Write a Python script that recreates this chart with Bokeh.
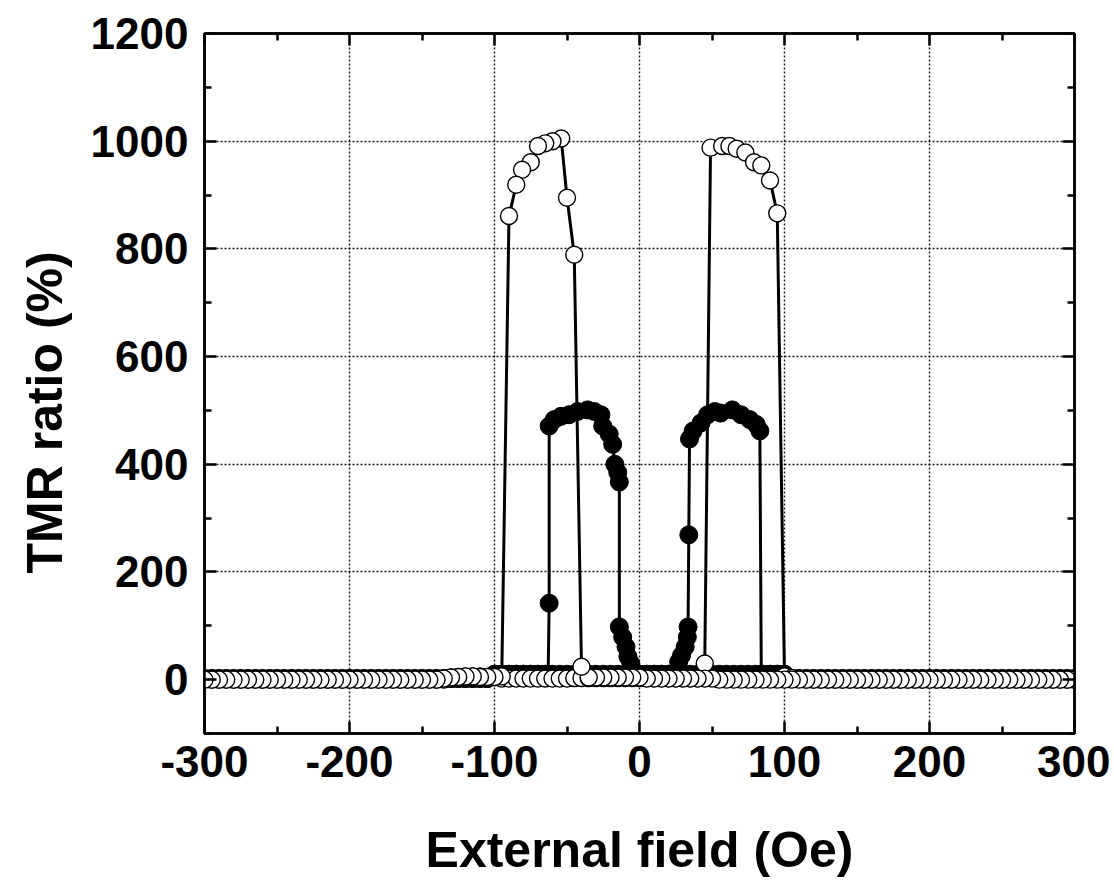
from bokeh.plotting import figure
from bokeh.models import FixedTicker, LinearAxis, Title
from bokeh.embed import file_html
from bokeh.resources import INLINE

# ---------------- data ----------------
# open circles, field sweep up (-300 -> +300)
open_up_field = [
    -300, -295, -290, -285, -280, -275, -270, -265, -260, -255,
    -250, -245, -240, -235, -230, -225, -220, -215, -210, -205,
    -200, -195, -190, -185, -180, -175, -170, -165, -160, -155,
    -150, -145, -140, -135, -130, -125, -120, -115, -110, -105,
    -100, -95, -90, -85, -80, -75, -70, -65, -60, -55,
    -50, -45, -40, -35, -30, -25, -20, -15, -10, -5,
    0, 5, 10, 15, 20, 25, 30, 35, 40,
    45, 49, 57, 62, 67, 73, 79, 84, 90, 95,
    100, 105, 110, 115, 120, 125, 130, 135, 140, 145,
    150, 155, 160, 165, 170, 175, 180, 185, 190, 195,
    200, 205, 210, 215, 220, 225, 230, 235, 240, 245,
    250, 255, 260, 265, 270, 275, 280, 285, 290, 295,
    300,
]
open_up_tmr = [
    0, 0, 0, 0, 0, 0, 0, 0, 0, 0,
    0, 0, 0, 0, 0, 0, 0, 0, 0, 0,
    0, 0, 0, 0, 0, 0, 0, 0, 0, 0,
    0, 0, 0, 0, 4, 5, 6, 6, 6, 5,
    5, 2, 2, 2, 2, 2, 2, 2, 2, 2,
    2, 3, 3, 3, 3, 3, 3, 3, 3, 3,
    3, 3, 3, 3, 3, 3, 3, 3, 3,
    30, 988, 991, 991, 986, 979, 961, 955, 927, 866,
    6, 3, 2, 0, 0, 0, 0, 0, 0, 0,
    0, 0, 0, 0, 0, 0, 0, 0, 0, 0,
    0, 0, 0, 0, 0, 0, 0, 0, 0, 0,
    0, 0, 0, 0, 0, 0, 0, 0, 0, 0,
    0,
]

# open circles, field sweep down (+300 -> -300)
open_down_field = [
    300, 295, 290, 285, 280, 275, 270, 265, 260, 255,
    250, 245, 240, 235, 230, 225, 220, 215, 210, 205,
    200, 195, 190, 185, 180, 175, 170, 165, 160, 155,
    150, 145, 140, 135, 130, 125, 120, 115, 110, 105,
    100, 95, 90, 85, 80, 75, 70, 65, 60, 55,
    50, 45, 40, 35, 30, 25, 20, 15, 10, 5,
    0, -5, -10, -15, -20, -25, -30, -35,
    -40, -45, -50, -54, -60, -65, -70, -75, -81, -85, -90,
    -95, -100, -105, -110, -115, -120, -125, -130, -135, -140,
    -145, -150, -155, -160, -165, -170, -175, -180, -185, -190,
    -195, -200, -205, -210, -215, -220, -225, -230, -235, -240,
    -245, -250, -255, -260, -265, -270, -275, -280, -285, -290,
    -295, -300,
]
open_down_tmr = [
    0, 0, 0, 0, 0, 0, 0, 0, 0, 0,
    0, 0, 0, 0, 0, 0, 0, 0, 0, 0,
    0, 0, 0, 0, 0, 0, 0, 0, 0, 0,
    0, 0, 0, 0, 0, 0, 0, 0, 0, 0,
    0, 0, 0, 0, 0, 0, 0, 0, 0, 0,
    2, 2, 2, 2, 2, 2, 2, 2, 2, 2,
    4, 4, 4, 4, 4, 4, 4, 4,
    24, 789, 895, 1005, 1000, 996, 991, 961, 947, 919, 861,
    6, 5, 5, 5, 6, 6, 5, 4, 2, 0,
    0, 0, 0, 0, 0, 0, 0, 0, 0, 0,
    0, 0, 0, 0, 0, 0, 0, 0, 0, 0,
    0, 0, 0, 0, 0, 0, 0, 0, 0, 0,
    0, 0,
]

# filled circles, field sweep up (-300 -> +300)
filled_up_field = [
    -300, -295, -290, -285, -280, -275, -270, -265, -260, -255,
    -250, -245, -240, -235, -230, -225, -220, -215, -210, -205,
    -200, -195, -190, -185, -180, -175, -170, -165, -160, -155,
    -150, -145, -140, -135, -130, -125, -120, -115, -110, -105,
    -100, -95, -90, -85, -80, -75, -70, -65, -60, -55,
    -50, -45, -40, -35, -30, -25, -20, -15, -10, -5,
    0, 5, 10, 15, 20, 25,
    27, 29, 31.5, 33, 33.5, 34, 34.5, 37, 42.5, 47, 52, 56, 64, 70, 76, 80.5, 83, 84,
    85, 90, 95, 100,
    105, 110, 115, 120, 125, 130, 135, 140, 145, 150,
    155, 160, 165, 170, 175, 180, 185, 190, 195, 200,
    205, 210, 215, 220, 225, 230, 235, 240, 245, 250,
    255, 260, 265, 270, 275, 280, 285, 290, 295, 300,
]
filled_up_tmr = [
    2, 2, 2, 2, 2, 2, 2, 2, 2, 2,
    2, 2, 2, 2, 2, 2, 2, 2, 2, 2,
    2, 2, 2, 2, 2, 2, 2, 2, 2, 2,
    2, 2, 2, 2, 2, 2, 2, 2, 2, 2,
    10, 10, 10, 10, 10, 10, 10, 10, 10, 10,
    10, 10, 10, 10, 10, 10, 10, 10, 10, 10,
    10, 10, 10, 10, 10, 10,
    33, 45, 61, 79, 98, 269, 447, 462, 477, 492, 498, 495, 501, 492, 483, 474, 462, 10,
    10, 10, 10, 10,
    2, 2, 2, 2, 2, 2, 2, 2, 2, 2,
    2, 2, 2, 2, 2, 2, 2, 2, 2, 2,
    2, 2, 2, 2, 2, 2, 2, 2, 2, 2,
    2, 2, 2, 2, 2, 2, 2, 2, 2, 2,
]

# filled circles, field sweep down (+300 -> -300)
filled_down_field = [
    300, 295, 290, 285, 280, 275, 270, 265, 260, 255,
    250, 245, 240, 235, 230, 225, 220, 215, 210, 205,
    200, 195, 190, 185, 180, 175, 170, 165, 160, 155,
    150, 145, 140, 135, 130, 125, 120, 115, 110, 105,
    100, 95, 90, 85, 80, 75, 70, 65, 60, 55,
    50, 45, 40, 35, 30, 25, 20, 15, 10, 5,
    0, -5,
    -6, -8, -9.3, -11.6, -13.9, -13.9, -15, -17, -18.5, -20.9, -25.4,
    -26.6, -31.2, -35.8, -42.7, -48.5, -54.2, -58.8, -62.3, -62.3, -63,
    -65, -70, -75, -80, -85, -90, -95, -100,
    -105, -110, -115, -120, -125, -130, -135, -140, -145, -150,
    -155, -160, -165, -170, -175, -180, -185, -190, -195, -200,
    -205, -210, -215, -220, -225, -230, -235, -240, -245, -250,
    -255, -260, -265, -270, -275, -280, -285, -290, -295, -300,
]
filled_down_tmr = [
    2, 2, 2, 2, 2, 2, 2, 2, 2, 2,
    2, 2, 2, 2, 2, 2, 2, 2, 2, 2,
    2, 2, 2, 2, 2, 2, 2, 2, 2, 2,
    2, 2, 2, 2, 2, 2, 2, 2, 2, 2,
    10, 10, 10, 10, 10, 10, 10, 10, 10, 10,
    10, 10, 10, 10, 10, 10, 10, 10, 10, 10,
    10, 10,
    30, 43, 61, 79, 98, 367, 385, 400, 437, 456, 471,
    492, 498, 501, 498, 492, 489, 483, 471, 142, 10,
    10, 10, 10, 10, 10, 10, 10, 10,
    2, 2, 2, 2, 2, 2, 2, 2, 2, 2,
    2, 2, 2, 2, 2, 2, 2, 2, 2, 2,
    2, 2, 2, 2, 2, 2, 2, 2, 2, 2,
    2, 2, 2, 2, 2, 2, 2, 2, 2, 2,
]

x_ticks = [-300, -200, -100, 0, 100, 200, 300]
x_tick_labels = ["-300", "-200", "-100", "0", "100", "200", "300"]
x_minor = [-250, -150, -50, 50, 150, 250]
y_ticks = [0, 200, 400, 600, 800, 1000, 1200]
y_minor = [-100, 100, 300, 500, 700, 900, 1100]

x_title = "External field (Oe)"
y_title = "TMR ratio (%)"

for a, b in [(open_up_field, open_up_tmr), (open_down_field, open_down_tmr),
             (filled_up_field, filled_up_tmr), (filled_down_field, filled_down_tmr)]:
    assert len(a) == len(b), (len(a), len(b))

# ---------------- figure ----------------
FONT = "Liberation Sans"
p = figure(width=1110, height=880, x_range=(-300, 300), y_range=(-100, 1200),
           output_backend="svg", toolbar_location=None,
           min_border_left=204, min_border_right=36, min_border_top=33, min_border_bottom=139)
p.background_fill_color = "white"
p.border_fill_color = "white"
p.outline_line_color = "black"
p.outline_line_width = 2.5

xt = FixedTicker(ticks=x_ticks, minor_ticks=x_minor)
yt = FixedTicker(ticks=y_ticks, minor_ticks=y_minor)
p.xaxis.ticker = xt
p.yaxis.ticker = yt
p.xgrid.ticker = xt
p.ygrid.ticker = yt
for g in (p.xgrid, p.ygrid):
    g.grid_line_color = "black"
    g.grid_line_width = 1.4
    g.grid_line_dash = "2 2"
    g.grid_line_alpha = 0.9

p.xaxis.axis_label = x_title
p.xaxis.major_label_overrides = dict(zip(x_ticks, x_tick_labels))

top = LinearAxis(ticker=xt)
right = LinearAxis(ticker=yt)
top.major_label_overrides = {v: "" for v in x_ticks}
right.major_label_overrides = {v: "" for v in y_ticks}
top.major_label_text_font_size = "0px"
right.major_label_text_font_size = "0px"
p.add_layout(top, "above")
p.add_layout(right, "right")

for ax in p.xaxis + p.yaxis:
    ax.axis_line_width = 2.5
    ax.axis_line_color = "black"
    ax.major_tick_in = 12
    ax.major_tick_out = 0
    ax.minor_tick_in = 7
    ax.minor_tick_out = 0
    ax.major_tick_line_width = 2.5
    ax.minor_tick_line_width = 2.5
    ax.major_tick_line_color = "black"
    ax.minor_tick_line_color = "black"

for ax in (p.below[0], p.left[0]):
    ax.major_label_text_font = FONT
    ax.major_label_text_font_style = "bold"
    ax.major_label_text_font_size = "44px"
    ax.major_label_text_color = "black"
    ax.axis_label_text_font = FONT
    ax.axis_label_text_font_style = "bold"
    ax.axis_label_text_font_size = "50px"
    ax.axis_label_text_color = "black"

p.below[0].major_label_standoff = 12
p.below[0].axis_label_standoff = 42
p.left[0].major_label_standoff = 16

# y-axis title as a side title, sitting a little below the frame centre as in the original
p.add_layout(Title(text=y_title, align="left", offset=160, standoff=29,
                   text_font=FONT, text_font_style="bold", text_font_size="50px",
                   text_color="black"), "left")

# ---------------- glyphs ----------------
LW = 3
p.line(open_up_field, open_up_tmr, line_color="black", line_width=LW)
p.line(open_down_field, open_down_tmr, line_color="black", line_width=LW)
p.line(filled_up_field, filled_up_tmr, line_color="black", line_width=LW)
p.line(filled_down_field, filled_down_tmr, line_color="black", line_width=LW)
p.scatter(filled_up_field, filled_up_tmr, marker="circle", size=18,
          fill_color="black", line_color="black", line_width=1)
p.scatter(filled_down_field, filled_down_tmr, marker="circle", size=18,
          fill_color="black", line_color="black", line_width=1)
p.scatter(open_up_field, open_up_tmr, marker="circle", size=17,
          fill_color="white", line_color="black", line_width=1.4)
p.scatter(open_down_field, open_down_tmr, marker="circle", size=17,
          fill_color="white", line_color="black", line_width=1.4)

open("out.html", "w").write(file_html(p, INLINE))
